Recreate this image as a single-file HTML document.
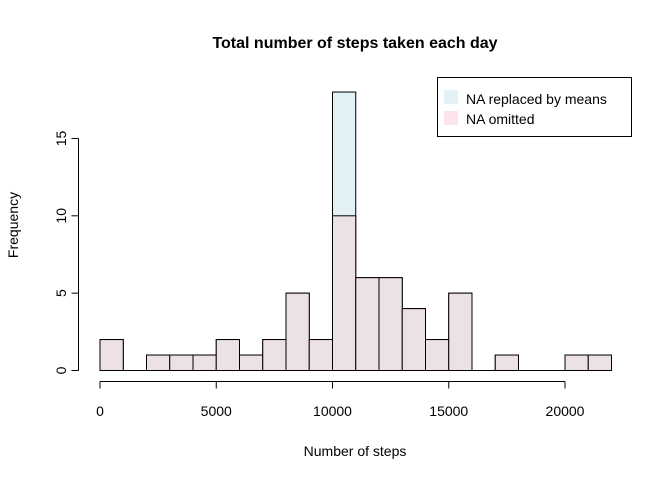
<!DOCTYPE html>
<html><head><meta charset="utf-8"><style>
body{margin:0;background:#fff}
text{font-family:"Liberation Sans",Arial,sans-serif;fill:#000}
</style></head><body>
<svg id="chart" width="672" height="480" xmlns="http://www.w3.org/2000/svg">
<rect width="672" height="480" fill="#fff"/>
<text x="355" y="48" font-size="16" font-weight="bold" text-anchor="middle">Total number of steps taken each day</text>
<text x="355" y="456" font-size="14" text-anchor="middle">Number of steps</text>
<text transform="translate(18,225) rotate(-90)" font-size="14" text-anchor="middle">Frequency</text>
<g id="bars-replaced"></g>
<g id="bars-omitted"></g>
<g id="axes"></g>
<g>
<rect x="437.5" y="77.5" width="194" height="59" fill="#fff" stroke="#000"/>
<rect x="444" y="90" width="14" height="14" fill="#e1f1f5"/>
<text x="466" y="104" font-size="14">NA replaced by means</text>
<rect x="444" y="111" width="14" height="14" fill="#fde3ea"/>
<text x="466" y="124" font-size="14">NA omitted</text>
</g>
</svg>
<script>
const binStarts=[0,1000,2000,3000,4000,5000,6000,7000,8000,9000,10000,11000,12000,13000,14000,15000,16000,17000,18000,19000,20000,21000];
const countsReplaced=[2,0,1,1,1,2,1,2,5,2,18,6,6,4,2,5,0,1,0,0,1,1];
const countsOmitted=[2,0,1,1,1,2,1,2,5,2,10,6,6,4,2,5,0,1,0,0,1,1];
const xTicks=[0,5000,10000,15000,20000];
const yTicks=[0,5,10,15];
const binWidth=1000;
const xs=v=>100+v*(465/20000);
const ys=v=>370.5-v*15.47;
const NS="http://www.w3.org/2000/svg";
function draw(gid,counts,fill,name){
  const g=document.getElementById(gid);
  counts.forEach((c,i)=>{
    const x0=xs(binStarts[i]),x1=xs(binStarts[i]+binWidth);
    if(c<=0){
      const l=document.createElementNS(NS,'line');
      l.setAttribute('x1',x0);l.setAttribute('x2',x1);l.setAttribute('y1',ys(0));l.setAttribute('y2',ys(0));
      l.setAttribute('stroke','#000');
      
      
      g.appendChild(l);
      return;
    }
    const r=document.createElementNS(NS,'rect');
    r.setAttribute('x',x0);r.setAttribute('y',ys(c));
    r.setAttribute('width',x1-x0);r.setAttribute('height',ys(0)-ys(c));
    r.setAttribute('fill',fill);r.setAttribute('stroke','#000');r.setAttribute('stroke-width','1');
    
    
    g.appendChild(r);
  });
}
draw('bars-replaced',countsReplaced,'#e1f1f5','bar-replaced');
draw('bars-omitted',countsOmitted,'#ede1e8','bar-omitted');
const ax=document.getElementById('axes');
function line(x1,y1,x2,y2,n){const l=document.createElementNS(NS,'line');l.setAttribute('x1',x1);l.setAttribute('y1',y1);l.setAttribute('x2',x2);l.setAttribute('y2',y2);l.setAttribute('stroke','#000');


ax.appendChild(l);}
line(xs(xTicks[0]),381.5,xs(xTicks[xTicks.length-1]),381.5,'x-axis-line');
xTicks.forEach(t=>{line(xs(t),381.5,xs(t),388.5,'x-tick');
const tx=document.createElementNS(NS,'text');tx.setAttribute('x',xs(t));tx.setAttribute('y',416);tx.setAttribute('font-size','14');tx.setAttribute('text-anchor','middle');tx.textContent=t;


ax.appendChild(tx);});
line(78.5,ys(yTicks[0]),78.5,ys(yTicks[yTicks.length-1]),'y-axis-line');
yTicks.forEach(t=>{line(71.5,ys(t),78.5,ys(t),'y-tick');
const tx=document.createElementNS(NS,'text');tx.setAttribute('transform','translate(66,'+ys(t)+') rotate(-90)');tx.setAttribute('font-size','14');tx.setAttribute('text-anchor','middle');tx.textContent=t;


ax.appendChild(tx);});
</script>
</body></html>
